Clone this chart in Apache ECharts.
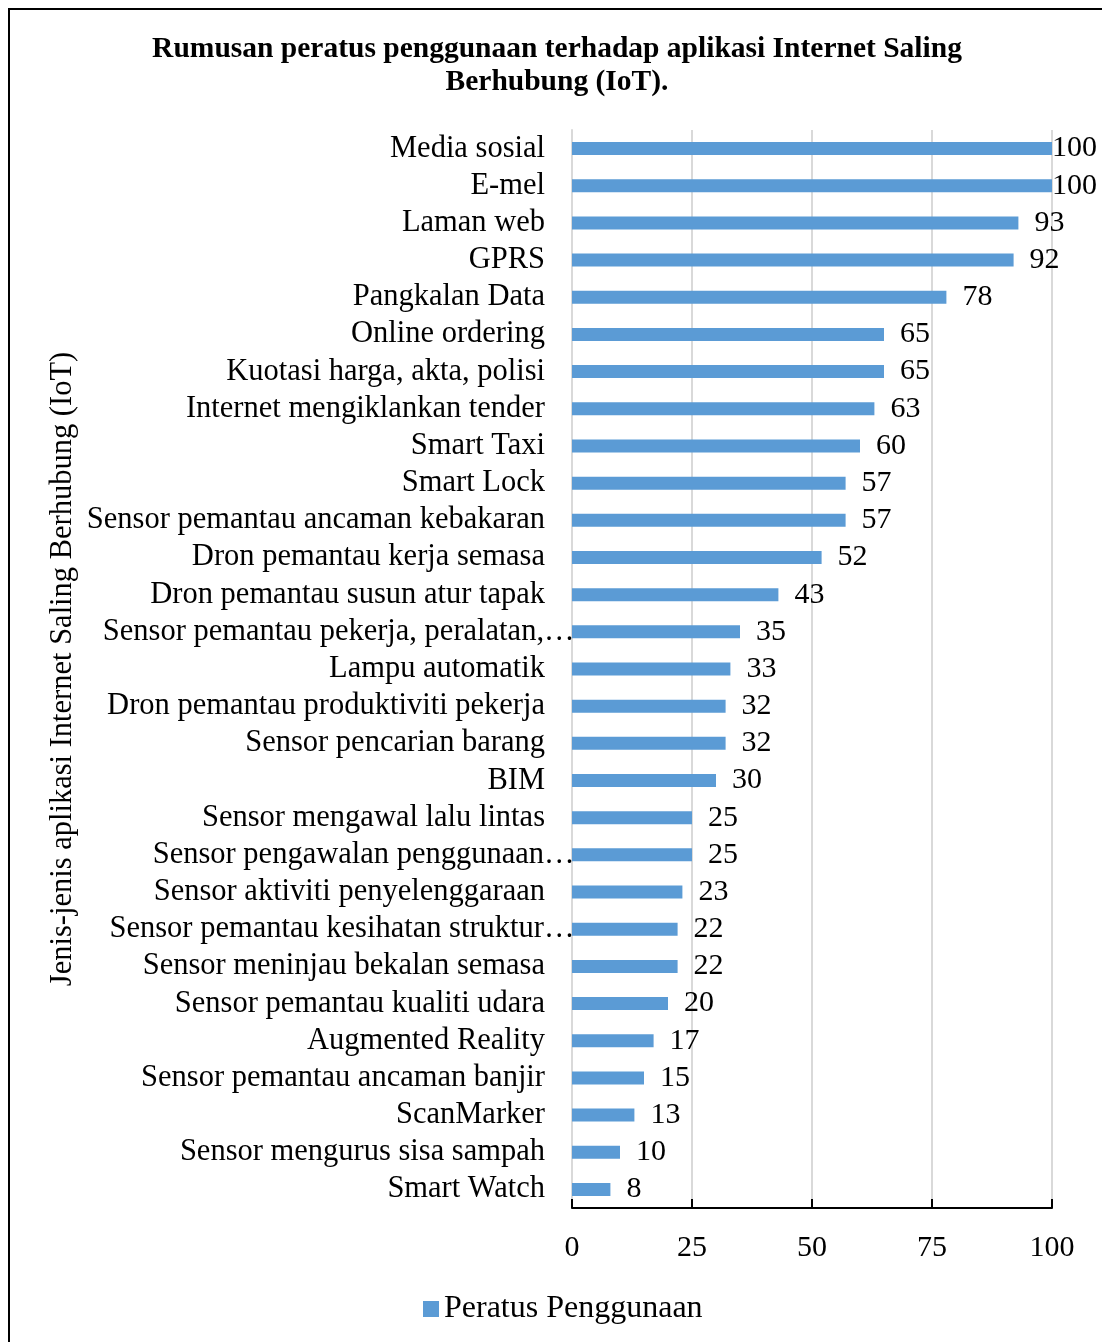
<!DOCTYPE html>
<html>
<head>
<meta charset="utf-8">
<script src="https://cdn.jsdelivr.net/npm/echarts@6/dist/echarts.min.js"></script>
<style>
  html, body { margin: 0; padding: 0; background: #fff; }
  #chart { width: 1102px; height: 1342px; }
</style>
</head>
<body>
<div id="chart"></div>
<script>
// kategori aplikasi (atas ke bawah)
var categories = [
  'Media sosial', 'E-mel', 'Laman web', 'GPRS', 'Pangkalan Data',
  'Online ordering', 'Kuotasi harga, akta, polisi', 'Internet mengiklankan tender',
  'Smart Taxi', 'Smart Lock', 'Sensor pemantau ancaman kebakaran',
  'Dron pemantau kerja semasa', 'Dron pemantau susun atur tapak',
  'Sensor pemantau pekerja, peralatan,…', 'Lampu automatik',
  'Dron pemantau produktiviti pekerja', 'Sensor pencarian barang', 'BIM',
  'Sensor mengawal lalu lintas', 'Sensor pengawalan penggunaan…',
  'Sensor aktiviti penyelenggaraan', 'Sensor pemantau kesihatan struktur…',
  'Sensor meninjau bekalan semasa', 'Sensor pemantau kualiti udara',
  'Augmented Reality', 'Sensor pemantau ancaman banjir', 'ScanMarker',
  'Sensor mengurus sisa sampah', 'Smart Watch'
];
// peratus penggunaan
var values = [100, 100, 93, 92, 78, 65, 65, 63, 60, 57, 57, 52, 43, 35, 33,
  32, 32, 30, 25, 25, 23, 22, 22, 20, 17, 15, 13, 10, 8];
var xTicks = [0, 25, 50, 75, 100];

var FONT = '"Times New Roman", "Liberation Serif", serif';

var chart = echarts.init(document.getElementById('chart'));

// label 100 dihimpit ke hujung bar supaya muat dalam carta
var barData = values.map(function (v) {
  return v >= 100 ? { value: v, label: { distance: 0 } } : v;
});

var option = {
  backgroundColor: '#fff',
  animation: false,
  title: {
    text: 'Rumusan peratus penggunaan terhadap aplikasi Internet Saling\nBerhubung (IoT).',
    left: 552,
    top: 28,
    textAlign: 'center',
    textStyle: {
      fontFamily: FONT, fontSize: 29.5, fontWeight: 'bold', color: '#000', lineHeight: 33
    }
  },
  legend: {
    bottom: 12,
    left: 418,
    icon: 'rect',
    itemWidth: 16,
    itemHeight: 16,
    itemGap: 7,
    textStyle: { fontFamily: FONT, fontSize: 32, color: '#000' },
    data: ['Peratus Penggunaan']
  },
  grid: { left: 572, right: 50, top: 130, bottom: 134 },
  xAxis: {
    type: 'value',
    min: 0,
    max: 100,
    interval: 25,
    axisLine: { show: true, lineStyle: { color: '#000', width: 2 } },
    axisTick: { show: true, inside: true, length: 9, lineStyle: { color: '#000', width: 2 } },
    axisLabel: {
      margin: 25,
      fontFamily: FONT, fontSize: 30, color: '#000',
      formatter: function (v) { return xTicks.indexOf(v) >= 0 ? String(v) : ''; }
    },
    splitLine: { show: true, lineStyle: { color: '#d9d9d9', width: 2 } }
  },
  yAxis: {
    type: 'category',
    inverse: true,
    data: categories,
    name: 'Jenis-jenis aplikasi Internet Saling Berhubung (IoT)',
    nameLocation: 'middle',
    nameGap: 494,
    nameTextStyle: { fontFamily: FONT, fontSize: 30.5, color: '#000' },
    axisLine: { show: true, lineStyle: { color: '#d9d9d9', width: 2 } },
    axisTick: { show: false },
    axisLabel: {
      interval: 0,
      margin: 27,
      fontFamily: FONT, fontSize: 30.5, color: '#000',
      // elipsis dibiarkan melimpah ke kanan seperti dalam rajah asal
      formatter: function (name) {
        if (name.charAt(name.length - 1) === '…') {
          return '{t|' + name.slice(0, -1) + '}{e|…}';
        }
        return name;
      },
      rich: {
        t: { fontFamily: FONT, fontSize: 30.5, color: '#000', align: 'left' },
        e: { fontFamily: FONT, fontSize: 30.5, color: '#000', width: 1, align: 'left' }
      }
    }
  },
  series: [{
    name: 'Peratus Penggunaan',
    type: 'bar',
    data: barData,
    barWidth: 13,
    itemStyle: { color: '#5b9bd5' },
    label: {
      show: true,
      position: 'right',
      distance: 16,
      fontFamily: FONT, fontSize: 30, color: '#000'
    }
  }],
  graphic: [
    { type: 'line', silent: true, shape: { x1: 9, y1: 8, x2: 9, y2: 1342 }, style: { stroke: '#000', lineWidth: 2 } },
    { type: 'line', silent: true, shape: { x1: 8, y1: 9, x2: 1102, y2: 9 }, style: { stroke: '#000', lineWidth: 2 } }
  ]
};

chart.setOption(option);
</script>
</body>
</html>
